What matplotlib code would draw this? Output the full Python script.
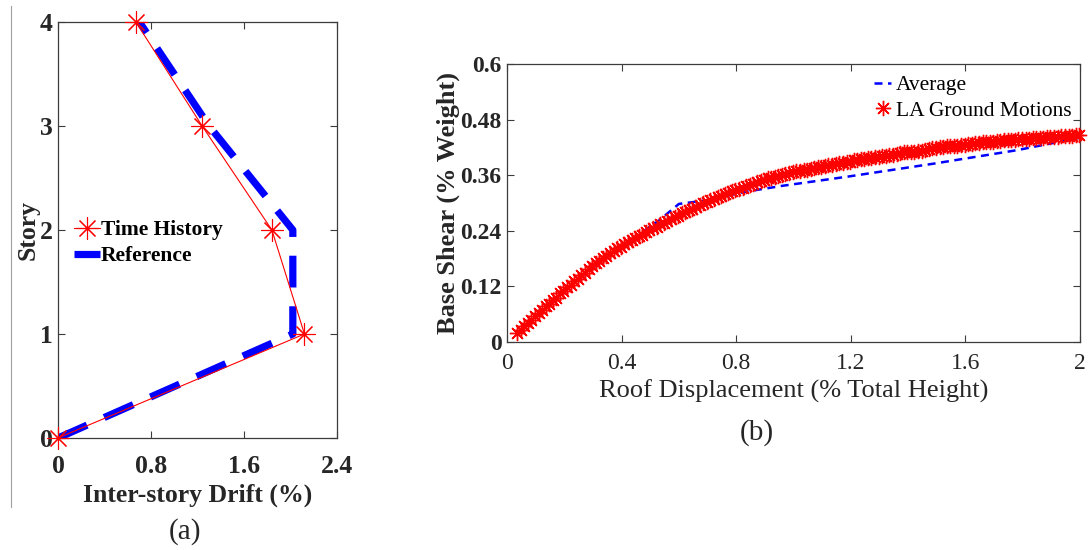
import matplotlib
matplotlib.use("Agg")
import matplotlib.pyplot as plt
from matplotlib.lines import Line2D

plt.rcParams['font.family'] = ['Liberation Serif', 'DejaVu Serif']
plt.rcParams['mathtext.fontset'] = 'stix'

# ---- (a) inter-story drift profile ----
story = [0, 1, 2, 3, 4]
drift_time_history = [0.0, 2.12, 1.84, 1.24, 0.67]
drift_reference = [0.0, 2.02, 2.02, 1.30, 0.70]
drift_ticks = [0, 0.8, 1.6, 2.4]
drift_tick_labels = ['0', '0.8', '1.6', '2.4']

# ---- (b) pushover-type curve ----
avg_disp = [0.035, 0.15, 0.29, 0.40, 0.53, 0.60, 0.70, 0.83, 0.96, 1.19, 1.49, 1.78, 2.0]
avg_shear = [0.020, 0.083, 0.155, 0.207, 0.262, 0.298, 0.306, 0.324, 0.337, 0.357, 0.385, 0.414, 0.441]

la_disp = [0.035, 0.048, 0.060, 0.072, 0.085, 0.097, 0.110, 0.122, 0.135, 0.147,
           0.160, 0.172, 0.185, 0.197, 0.210, 0.222, 0.235, 0.247, 0.260, 0.272,
           0.285, 0.297, 0.310, 0.322, 0.335, 0.347, 0.360, 0.372, 0.385, 0.397,
           0.410, 0.422, 0.435, 0.447, 0.460, 0.472, 0.485, 0.497, 0.510, 0.522,
           0.535, 0.547, 0.560, 0.572, 0.585, 0.597, 0.610, 0.622, 0.635, 0.647,
           0.660, 0.672, 0.685, 0.697, 0.710, 0.722, 0.735, 0.747, 0.760, 0.772,
           0.785, 0.797, 0.810, 0.822, 0.835, 0.847, 0.860, 0.872, 0.885, 0.897,
           0.910, 0.922, 0.935, 0.947, 0.960, 0.972, 0.985, 0.997, 1.010, 1.022,
           1.035, 1.047, 1.060, 1.072, 1.085, 1.097, 1.110, 1.122, 1.135, 1.147,
           1.160, 1.172, 1.185, 1.197, 1.210, 1.222, 1.235, 1.247, 1.260, 1.272,
           1.285, 1.297, 1.310, 1.322, 1.335, 1.347, 1.360, 1.372, 1.385, 1.397,
           1.410, 1.422, 1.435, 1.447, 1.460, 1.472, 1.485, 1.497, 1.510, 1.522,
           1.535, 1.547, 1.560, 1.572, 1.585, 1.597, 1.610, 1.622, 1.635, 1.647,
           1.660, 1.672, 1.685, 1.697, 1.710, 1.722, 1.735, 1.747, 1.760, 1.772,
           1.785, 1.797, 1.810, 1.822, 1.835, 1.847, 1.860, 1.872, 1.885, 1.897,
           1.910, 1.922, 1.935, 1.947, 1.960, 1.972, 1.985, 1.997]
la_shear = [0.020, 0.025, 0.035, 0.040, 0.048, 0.057, 0.063, 0.068, 0.077, 0.082,
            0.091, 0.096, 0.105, 0.110, 0.118, 0.124, 0.132, 0.137, 0.145, 0.150,
            0.158, 0.163, 0.170, 0.174, 0.181, 0.185, 0.192, 0.196, 0.203, 0.206,
            0.212, 0.215, 0.221, 0.224, 0.229, 0.232, 0.238, 0.241, 0.246, 0.249,
            0.254, 0.257, 0.262, 0.265, 0.270, 0.273, 0.278, 0.280, 0.285, 0.288,
            0.292, 0.295, 0.299, 0.302, 0.306, 0.308, 0.312, 0.315, 0.319, 0.321,
            0.325, 0.327, 0.331, 0.333, 0.337, 0.339, 0.342, 0.345, 0.348, 0.350,
            0.353, 0.354, 0.357, 0.358, 0.361, 0.362, 0.365, 0.366, 0.368, 0.369,
            0.371, 0.372, 0.374, 0.375, 0.377, 0.378, 0.380, 0.381, 0.383, 0.384,
            0.386, 0.386, 0.389, 0.389, 0.392, 0.392, 0.394, 0.395, 0.397, 0.397,
            0.399, 0.400, 0.402, 0.402, 0.404, 0.404, 0.406, 0.407, 0.409, 0.409,
            0.411, 0.411, 0.413, 0.413, 0.415, 0.416, 0.418, 0.418, 0.420, 0.420,
            0.422, 0.422, 0.424, 0.424, 0.426, 0.426, 0.428, 0.428, 0.429, 0.429,
            0.431, 0.431, 0.432, 0.432, 0.434, 0.434, 0.435, 0.435, 0.437, 0.437,
            0.438, 0.438, 0.439, 0.439, 0.440, 0.440, 0.441, 0.441, 0.442, 0.442,
            0.443, 0.443, 0.444, 0.444, 0.445, 0.445, 0.446, 0.446]
shear_ticks = [0, 0.12, 0.24, 0.36, 0.48, 0.6]
shear_tick_labels = ['0', '0.12', '0.24', '0.36', '0.48', '0.6']
disp_ticks = [0, 0.4, 0.8, 1.2, 1.6, 2.0]
disp_tick_labels = ['0', '0.4', '0.8', '1.2', '1.6', '2']

TEXT = '#262626'
SPINE = '#3c3c3c'
ASTERISK = (8, 2, 0)

fig = plt.figure(figsize=(10.89, 5.5), dpi=100)


def style_axes(ax):
    for s in ax.spines.values():
        s.set_color(SPINE)
        s.set_linewidth(0.9)
    ax.tick_params(direction='in', length=5, width=0.8, color=SPINE,
                   top=True, right=True, labelcolor=TEXT)


# ---------- panel (a) ----------
ax1 = fig.add_axes([58 / 1089, 1 - 438 / 550, 279 / 1089, 416 / 550])
ax1.plot(drift_reference, story, color='#0000ff', lw=5.2,
         linestyle=(0, (4.4, 2.6)), label='Reference', zorder=2)
ax1.plot(drift_time_history, story, color='#ff0000', lw=0.8,
         marker=ASTERISK, markersize=16, markeredgewidth=0.8,
         label='Time History', zorder=3, clip_on=False)
ax1.set_xlim(0, 2.4)
ax1.set_ylim(0, 4)
ax1.set_xticks(drift_ticks)
ax1.set_xticklabels(drift_tick_labels)
ax1.set_yticks(story)
style_axes(ax1)
for lab in ax1.get_xticklabels() + ax1.get_yticklabels():
    lab.set_fontsize(18.5)
    lab.set_fontweight('bold')
ax1.tick_params(axis='x', pad=12)
ax1.tick_params(axis='y', pad=4)
ax1.set_xlabel('Inter-story Drift (%)', fontsize=18.5, fontweight='bold',
               color=TEXT, labelpad=4)
ax1.set_ylabel('Story', fontsize=18.5, fontweight='bold', color=TEXT, labelpad=0)
h, l = ax1.get_legend_handles_labels()
ax1.legend([h[1], h[0]], [l[1], l[0]], loc='upper left',
           bbox_to_anchor=(74 / 1089, 1 - 220 / 550), bbox_transform=fig.transFigure,
           frameon=False, handlelength=1.2, handletextpad=0.05,
           borderpad=0, borderaxespad=0, labelspacing=0.28,
           prop={'weight': 'bold', 'size': 15.5})
fig.text(185 / 1089, 1 - 532 / 550, '(a)', fontsize=21, color=TEXT,
         ha='center', va='center')

# ---------- panel (b) ----------
ax2 = fig.add_axes([507 / 1089, 1 - 342 / 550, 573 / 1089, 278 / 550])
ax2.plot(avg_disp, avg_shear, color='#0000ff', lw=1.8,
         linestyle=(0, (3.2, 2.2)), label='Average', zorder=2)
ax2.plot(la_disp, la_shear, linestyle='none', color='#ff0000',
         marker=ASTERISK, markersize=11, markeredgewidth=1.0,
         label='LA Ground Motions', zorder=3, clip_on=False)
ax2.set_xlim(0, 2)
ax2.set_ylim(0, 0.6)
ax2.set_xticks(disp_ticks)
ax2.set_xticklabels(disp_tick_labels)
ax2.set_yticks(shear_ticks)
ax2.set_yticklabels(shear_tick_labels)
style_axes(ax2)
for lab in ax2.get_xticklabels():
    lab.set_fontsize(17)
for lab in ax2.get_yticklabels():
    lab.set_fontsize(17)
    lab.set_fontweight('bold')
ax2.tick_params(axis='x', pad=8)
ax2.tick_params(axis='y', pad=4)
ax2.set_xlabel('Roof Displacement (% Total Height)', fontsize=19,
               color=TEXT, labelpad=4)
ax2.set_ylabel('Base Shear (% Weight)', fontsize=19, fontweight='bold',
               color=TEXT, labelpad=0)
ax2.legend(loc='upper left', bbox_to_anchor=(874 / 1089, 1 - 75 / 550),
           bbox_transform=fig.transFigure, frameon=False,
           handlelength=0.8, handletextpad=0.2, borderpad=0, borderaxespad=0,
           labelspacing=0.25, prop={'size': 15.5})
fig.text(757 / 1089, 1 - 433 / 550, '(b)', fontsize=21, color=TEXT,
         ha='center', va='center')

# thin rule along the left edge
fig.add_artist(Line2D([11 / 1089, 11 / 1089], [1 - 507 / 550, 1 - 6 / 550],
                      transform=fig.transFigure, color='#a0a0a0', lw=0.8))

fig.savefig('out.png', dpi=100, facecolor='white')
